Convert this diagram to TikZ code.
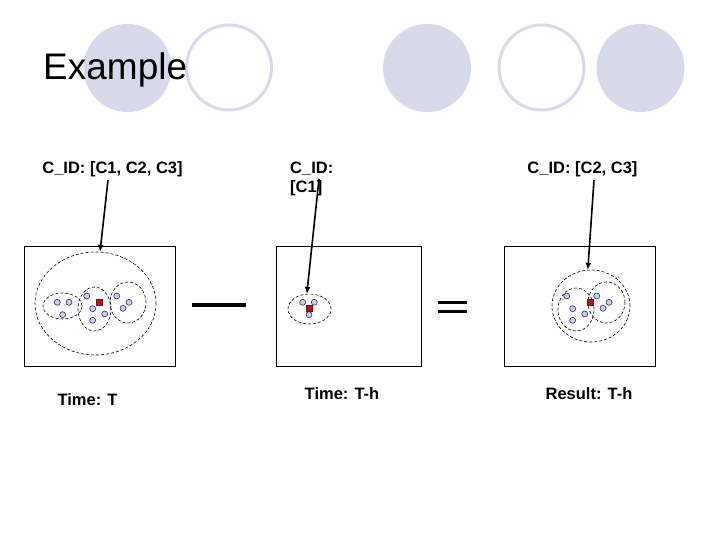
\documentclass[tikz,border=0pt]{standalone}
\usepackage{fontspec}
\setmainfont{Liberation Sans}
\definecolor{lavender}{RGB}{216, 216, 235}
\definecolor{ptblue}{RGB}{45, 45, 110}
\definecolor{ptfill}{RGB}{205, 205, 232}
\definecolor{hubred}{RGB}{170, 25, 30}
\usetikzlibrary{arrows.meta, shapes.geometric}
\tikzset{
	deco/.style={circle, fill=lavender, minimum size=88pt, inner sep=0pt},
	ring/.style={circle, draw=lavender, line width=3pt, minimum size=85pt, inner sep=0pt},
	frame/.style={rectangle, draw=black, line width=0.8pt, minimum height=120pt, inner sep=0pt},
	cluster/.style={ellipse, draw=black, line width=0.6pt, dash pattern=on 3pt off 2pt, inner sep=0pt},
	obj/.style={circle, draw=ptblue, fill=ptfill, line width=0.6pt, minimum size=6pt, inner sep=0pt},
	hub/.style={rectangle, draw=hubred!70!black, fill=hubred, line width=0.5pt, minimum size=6pt, inner sep=0pt},
	lbl/.style={font=\bfseries\fontsize{16.5}{19}\selectfont, inner sep=0pt},
	sign/.style={line width=3.5pt},
	arrow/.style={-{Latex[length=7pt, width=6pt]}, line width=1.6pt},
}

\begin{document}
\begin{tikzpicture}[x=1pt, y=-1pt]
		\useasboundingbox (0,0) rectangle (720,540);
		\node[deco] (deco1) at (127.5,68) {};
		\node[ring] (ring1) at (229,67.5) {};
		\node[deco] (deco2) at (427,68) {};
		\node[ring] (ring2) at (541.5,67.5) {};
		\node[deco] (deco3) at (640.5,68) {};
		\node[anchor=base west, inner sep=0pt, font=\fontsize{37}{44}\selectfont] (title) at (43,80) {Example};
		\node[frame, minimum width=151pt] (boxT) at (99.5,306) {};
		\node[frame, minimum width=145pt] (boxH) at (348.5,306) {};
		\node[frame, minimum width=151pt] (boxR) at (579.5,306) {};
		\node[cluster, minimum width=121pt, minimum height=103pt] (bigT) at (95.5,303.5) {};
		\node[cluster, minimum width=39pt, minimum height=26pt] (c1T) at (62.5,306) {};
		\node[cluster, minimum width=33pt, minimum height=44pt] (c2T) at (94.5,309) {};
		\node[cluster, minimum width=36pt, minimum height=41pt] (c3T) at (128,302.5) {};
		\foreach \p [count=\i] in {(57.3,302.3), (69,302.3), (62.7,314.7), (86.7,296), (92.7,308.7), (104.7,314), (92.7,320.3), (116.7,296), (129,302.3), (123,308.3)}
			\node[obj] (t\i) at \p {};
		\node[hub] (hubT) at (99,302.3) {};
		\node[cluster, minimum width=43pt, minimum height=30pt] (c1H) at (309.5,309) {};
		\foreach \p [count=\i] in {(302.7,302.3), (314.3,302.3), (309,314.7)}
			\node[obj] (h\i) at \p {};
		\node[hub] (hubH) at (309,308.7) {};
		\node[cluster, minimum width=78pt, minimum height=72pt] (bigR) at (591,306) {};
		\node[cluster, minimum width=36pt, minimum height=43pt] (c2R) at (576,309.5) {};
		\node[cluster, minimum width=37pt, minimum height=41pt] (c3R) at (606.5,302.5) {};
		\foreach \p [count=\i] in {(566.7,296), (572.7,308.7), (584.7,314), (572.7,320.3), (596.7,296), (609,302.3), (603,308.3)}
			\node[obj] (r\i) at \p {};
		\node[hub] (hubR) at (590.7,302.3) {};
		\node[lbl, anchor=base] (idT) at (112.5,173.5) {C\_ID: [C1, C2, C3]};
		\node[lbl, anchor=north west, align=left] (idH) at (290,162) {C\_ID:\\{[C1]}};
		\node[lbl, anchor=base] (idR) at (582.5,173.5) {C\_ID: [C2, C3]};
		\node[lbl, anchor=base] (timeT) at (87.5,405) {Time: T};
		\node[lbl, anchor=base] (timeH) at (342,399) {Time: T-h};
		\node[lbl, anchor=base] (result) at (589,399) {Result: T-h};
		\coordinate (fromT) at (108,180);
		\coordinate (fromH) at (319,179);
		\coordinate (fromR) at (594,180);
		\draw[arrow] (fromT) -- (bigT.85);
		\draw[arrow] (fromH) -- (c1H.100);
		\draw[arrow] (fromR) -- (bigR.95);
		\draw[sign] (192,305) -- (246,305);
		\draw[sign, line width=3pt] (438,302.7) -- (467,302.7);
		\draw[sign, line width=3pt] (438,311.7) -- (467,311.7);
	\end{tikzpicture}
\end{document}
